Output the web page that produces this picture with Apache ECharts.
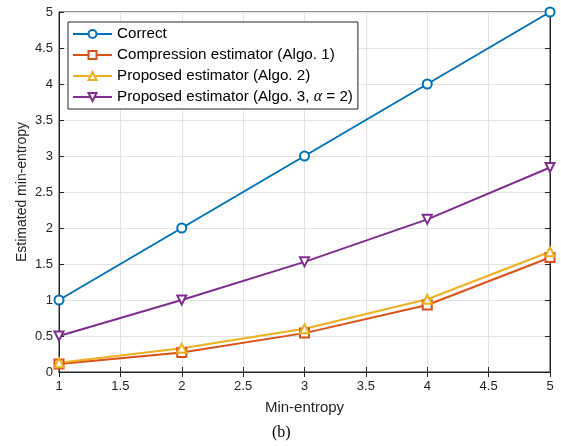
<!DOCTYPE html>
<html>
<head>
<meta charset="utf-8">
<script src="https://cdn.jsdelivr.net/npm/echarts@6/dist/echarts.min.js"></script>
<style>html,body{margin:0;padding:0;background:#fff}#c{width:561px;height:446px}</style>
</head>
<body>
<div id="c"></div>
<script>
const xValues = [1, 2, 3, 4, 5];
const correct = [1, 2, 3, 4, 5];
const compression = [0.11, 0.27, 0.54, 0.93, 1.59];
const proposed2 = [0.13, 0.33, 0.60, 1.01, 1.67];
const proposed3 = [0.50, 1.00, 1.53, 2.12, 2.84];
const seriesNames = ['Correct', 'Compression estimator (Algo. 1)', 'Proposed estimator (Algo. 2)', 'Proposed estimator (Algo. 3, α = 2)'];
const colors = ['#0072BD', '#D95319', '#EDB120', '#7E2F8E'];

const pair = (ys) => xValues.map((x, i) => [x, ys[i]]);
const axisColor = '#262626';
const font = 'Liberation Sans, Arial, sans-serif';

const chart = echarts.init(document.getElementById('c'), null, {renderer: 'canvas'});
const mk = (name, data, color, symbol, rot) => ({
  name, type: 'line', data: pair(data), symbol, symbolSize: 9, symbolRotate: rot || 0,
  showSymbol: true,
  lineStyle: {color, width: 2}, itemStyle: {color, borderColor: color, borderWidth: 1.8},
  emphasis: {disabled: true}, animation: false, z: 3
});
chart.setOption({
  animation: false,
  textStyle: {fontFamily: font},
  grid: {left: 59, right: 11, top: 12, bottom: 74, show: true, borderColor: axisColor, borderWidth: 1, backgroundColor: 'transparent'},
  legend: {
    orient: 'vertical', left: 68, top: 22, padding: [3, 5, 3, 4], itemGap: 3,
    itemWidth: 39, itemHeight: 10,
    borderColor: axisColor, borderWidth: 1, backgroundColor: '#fff', borderRadius: 0,
    textStyle: {fontSize: 15.2, color: '#000', fontFamily: font, lineHeight: 18,
      rich: {a: {fontFamily: 'Liberation Serif, Times New Roman, serif', fontStyle: 'italic', fontSize: 16, lineHeight: 18}}},
    formatter: (n) => n.replace('α', '{a|α}'),
    data: seriesNames
  },
  xAxis: [{
    type: 'value', min: 1, max: 5, interval: 0.5,
    name: 'Min-entropy', nameLocation: 'middle', nameGap: 28,
    nameTextStyle: {fontSize: 15, color: axisColor},
    axisLine: {show: true, onZero: false, lineStyle: {color: axisColor}},
    axisTick: {show: true, inside: true, length: 5, lineStyle: {color: axisColor}},
    axisLabel: {fontSize: 13, color: axisColor, margin: 8},
    splitLine: {show: true, lineStyle: {color: '#e3e3e3'}}
  }, {
    type: 'value', min: 1, max: 5, interval: 0.5, position: 'top',
    axisLine: {show: true, lineStyle: {color: axisColor}},
    axisTick: {show: true, inside: true, length: 5, lineStyle: {color: axisColor}},
    axisLabel: {show: false}, splitLine: {show: false}
  }],
  yAxis: [{
    type: 'value', min: 0, max: 5, interval: 0.5,
    name: 'Estimated min-entropy', nameLocation: 'middle', nameGap: 30, nameMoveOverlap: false,
    nameTextStyle: {fontSize: 14, color: axisColor},
    axisLine: {show: true, onZero: false, lineStyle: {color: axisColor}},
    axisTick: {show: true, inside: true, length: 5, lineStyle: {color: axisColor}},
    axisLabel: {fontSize: 13, color: axisColor, margin: 6},
    splitLine: {show: true, lineStyle: {color: '#e3e3e3'}}
  }, {
    type: 'value', min: 0, max: 5, interval: 0.5, position: 'right',
    axisLine: {show: true, lineStyle: {color: axisColor}},
    axisTick: {show: true, inside: true, length: 5, lineStyle: {color: axisColor}},
    axisLabel: {show: false}, splitLine: {show: false}
  }],
  graphic: [{
    type: 'text', left: 272, top: 425,
    style: {text: '(b)', font: '16px "Liberation Serif", "Times New Roman", serif', fill: '#000'}
  }],
  series: [
    mk(seriesNames[0], correct, colors[0], 'emptyCircle'),
    mk(seriesNames[1], compression, colors[1], 'emptyRect'),
    mk(seriesNames[2], proposed2, colors[2], 'emptyTriangle'),
    mk(seriesNames[3], proposed3, colors[3], 'emptyTriangle', 180)
  ]
});
</script>
</body>
</html>
